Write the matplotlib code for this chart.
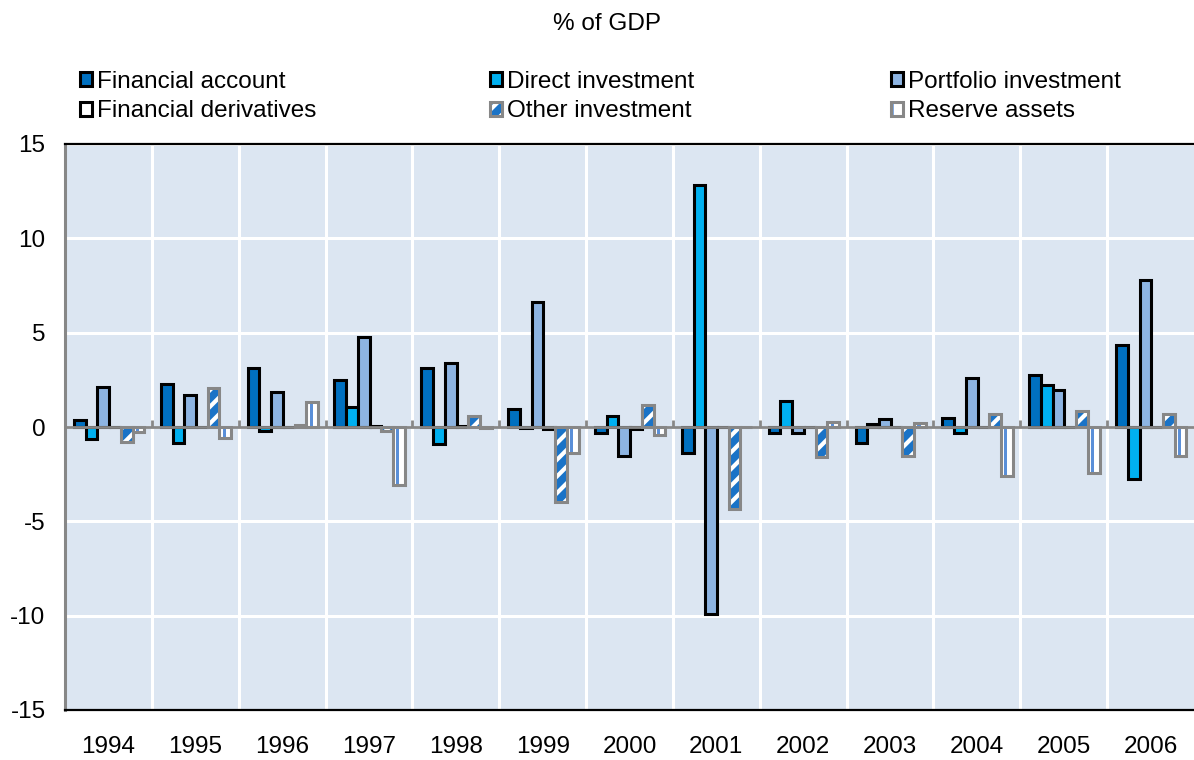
import numpy as np
import matplotlib
matplotlib.use("Agg")
from matplotlib import pyplot as plt
from matplotlib.patches import Patch

plt.rcParams['font.family'] = ['Liberation Sans', 'DejaVu Sans']
plt.rcParams['hatch.linewidth'] = 3.0
plt.rcParams['axes.unicode_minus'] = False

# values, % of GDP
years = ['1994', '1995', '1996', '1997', '1998', '1999', '2000',
         '2001', '2002', '2003', '2004', '2005', '2006']
fin_account = [0.35, 2.3, 3.15, 2.5, 3.15, 0.95, -0.3, -1.4, -0.3, -0.85, 0.5, 2.75, 4.35]
direct_inv = [-0.65, -0.85, -0.2, 1.05, -0.9, -0.05, 0.6, 12.85, 1.4, 0.15, -0.3, 2.25, -2.75]
portfolio_inv = [2.1, 1.7, 1.85, 4.75, 3.4, 6.6, -1.55, -9.9, -0.3, 0.4, 2.6, 1.95, 7.8]
fin_deriv = [0, 0, 0, 0.05, 0.05, -0.08, -0.1, 0, 0, 0, 0, 0, 0]
other_inv = [-0.8, 2.05, 0.1, -0.2, 0.6, -4.0, 1.15, -4.35, -1.6, -1.55, 0.7, 0.85, 0.7]
reserve = [-0.25, -0.6, 1.35, -3.1, -0.05, -1.4, -0.4, 0, 0.25, 0.2, -2.6, -2.45, -1.55]

c_fa = '#0070C0'
c_di = '#00B0F0'
c_pi = '#8DB4E2'
c_oi = '#1A73C7'
c_ra = '#5A8FD8'
grey = '#878787'
bg = '#DCE6F2'
fs = 17.5

fig = plt.figure(figsize=(11.94, 7.6), dpi=100)
ax = fig.add_axes([65/1194, 50/760, 1 - 65/1194, 566/760])

x = np.arange(len(years))
w = 0.135
offs = (np.arange(6) - 2.5) * w + 0.008
lw = 2.2

ax.bar(x + offs[0], fin_account, w, color=c_fa, edgecolor='black', linewidth=lw, zorder=2)
ax.bar(x + offs[1], direct_inv, w, color=c_di, edgecolor='black', linewidth=lw, zorder=2)
ax.bar(x + offs[2], portfolio_inv, w, color=c_pi, edgecolor='black', linewidth=lw, zorder=2)
ax.bar(x + offs[3], fin_deriv, w, color='white', edgecolor='black', linewidth=lw, zorder=2)
# other investment: blue with white stripes, grey outline
ax.bar(x + offs[4], other_inv, w, color=c_oi, edgecolor='white', hatch='//', linewidth=0, zorder=2)
ax.bar(x + offs[4], other_inv, w, color='none', edgecolor=grey, linewidth=lw, zorder=2)
# reserve assets: white with a thin blue stripe, grey outline
ax.bar(x + offs[5], reserve, w, color='white', linewidth=0, zorder=2)
ax.bar(x + offs[5] - 0.012, reserve, 0.035, color=c_ra, linewidth=0, zorder=2)
ax.bar(x + offs[5], reserve, w, color='none', edgecolor=grey, linewidth=lw, zorder=2)

ax.set_xlim(-0.5, len(years) - 0.5)
ax.set_ylim(-15, 15)
ax.set_facecolor(bg)
ax.set_yticks(range(-15, 16, 5))
ax.set_xticks(x)
ax.set_xticklabels(years)
ax.set_xticks(x[:-1] + 0.5, minor=True)
ax.grid(axis='y', color='white', linewidth=2.2, zorder=1)
ax.grid(axis='x', which='minor', color='white', linewidth=2.2, zorder=1)
ax.set_axisbelow(True)
ax.tick_params(which='both', length=0, labelsize=fs)
ax.tick_params(axis='y', pad=14)
ax.tick_params(axis='x', pad=19)

ax.axhline(0, color=grey, linewidth=2, zorder=3)
ax.vlines(x[:-1] + 0.5, 0, 0.38, color=grey, linewidth=2, zorder=3)

for s in ['top', 'bottom']:
    ax.spines[s].set_color('black')
    ax.spines[s].set_linewidth(1.6)
ax.spines['left'].set_color(grey)
ax.spines['left'].set_linewidth(2.2)
ax.spines['right'].set_visible(False)

fig.text(0.508, 0.968, '% of GDP', ha='center', va='center', fontsize=fs)

h_fa = Patch(facecolor=c_fa, edgecolor='black', linewidth=lw)
h_di = Patch(facecolor=c_di, edgecolor='black', linewidth=lw)
h_pi = Patch(facecolor=c_pi, edgecolor='black', linewidth=lw)
h_fd = Patch(facecolor='white', edgecolor='black', linewidth=lw)
h_oi = (Patch(facecolor=c_oi, edgecolor='white', hatch='//', linewidth=0),
        Patch(facecolor='none', edgecolor=grey, linewidth=lw))
h_ra = (Patch(facecolor='white', edgecolor=c_ra, hatch='|', linewidth=0),
        Patch(facecolor='none', edgecolor=grey, linewidth=lw))

columns = [([h_fa, h_fd], ['Financial account', 'Financial derivatives'], 80),
           ([h_di, h_oi], ['Direct investment', 'Other investment'], 490),
           ([h_pi, h_ra], ['Portfolio investment', 'Reserve assets'], 891)]
for handles, labels, xpix in columns:
    fig.legend(handles, labels, loc='upper left', bbox_to_anchor=(xpix / 1194, 1 - 71 / 760),
               frameon=False, fontsize=fs, handlelength=0.5, handleheight=0.5,
               handletextpad=0.2, labelspacing=0.3, borderpad=0, borderaxespad=0)

fig.savefig('out.png', dpi=100)
